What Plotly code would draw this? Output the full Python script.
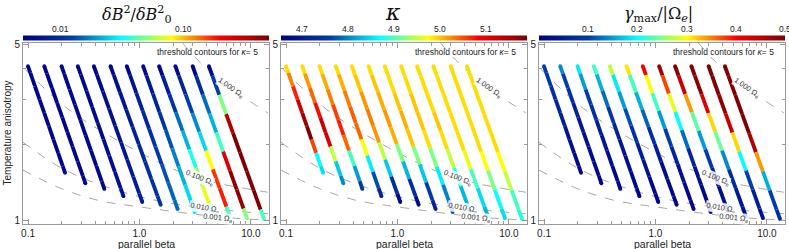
import math
import plotly.graph_objects as go
from plotly.colors import sample_colorscale

# ---------------- data ----------------
# 12 trajectories (same positions in all panels): start / end (parallel beta, anisotropy)
beta_start = [0.10, 0.14, 0.20, 0.28, 0.39, 0.55, 0.77, 1.08, 1.50, 2.10, 3.00, 4.20]
aniso_start = [4.08, 4.08, 4.08, 4.08, 4.08, 4.08, 4.08, 4.08, 4.08, 4.08, 4.08, 4.08]
beta_end = [0.215, 0.327, 0.484, 0.718, 1.06, 1.55, 2.20, 3.13, 4.55, 6.47, 9.2, 13.1]
aniso_end = [1.54, 1.40, 1.33, 1.245, 1.18, 1.15, 1.106, 1.076, 1.056, 1.037, 1.018, 1.009]

# colour values at 9 equally spaced stations along each trajectory (top -> bottom)
dB2 = [
    [0.0055, 0.0055, 0.0055, 0.0055, 0.0055, 0.0055, 0.0055, 0.0055, 0.0055],
    [0.0055, 0.0055, 0.0055, 0.0055, 0.0055, 0.0055, 0.0055, 0.0055, 0.0055],
    [0.0057, 0.0057, 0.0057, 0.0057, 0.0057, 0.0057, 0.0057, 0.0058, 0.0058],
    [0.0057, 0.0057, 0.0057, 0.0060, 0.0060, 0.0063, 0.0063, 0.0066, 0.0066],
    [0.0057, 0.0060, 0.0063, 0.0066, 0.0069, 0.0072, 0.0076, 0.0079, 0.0079],
    [0.0057, 0.0063, 0.0069, 0.0076, 0.0083, 0.0091, 0.0100, 0.0104, 0.0109],
    [0.0057, 0.0066, 0.0079, 0.0091, 0.0104, 0.0120, 0.0138, 0.0151, 0.0158],
    [0.0057, 0.0072, 0.0087, 0.0109, 0.0138, 0.0173, 0.0218, 0.0262, 0.0275],
    [0.0057, 0.0079, 0.0109, 0.0158, 0.0218, 0.0346, 0.0550, 0.0720, 0.0346],
    [0.0057, 0.0087, 0.0126, 0.0182, 0.0262, 0.0790, 0.1660, 0.1800, 0.0400],
    [0.0057, 0.0100, 0.0158, 0.0218, 0.0400, 0.2500, 0.4350, 0.4350, 0.0500],
    [0.0057, 0.0126, 0.0500, 0.3460, 0.5000, 0.5000, 0.5000, 0.5000, 0.0400],
]
kappa = [
    [4.99, 5.03, 5.07, 5.125, 5.165, 5.19, 5.056, 4.87, 4.85],
    [4.99, 5.02, 5.04, 5.08, 5.125, 5.11, 4.95, 4.84, 4.805],
    [4.99, 5.01, 5.03, 5.056, 5.07, 5.04, 4.895, 4.815, 4.76],
    [4.99, 5.01, 5.03, 5.045, 5.04, 4.975, 4.86, 4.77, 4.72],
    [4.99, 5.00, 5.02, 5.03, 5.02, 4.95, 4.84, 4.735, 4.68],
    [4.99, 5.00, 5.01, 5.02, 5.01, 4.92, 4.83, 4.735, 4.68],
    [4.99, 4.99, 5.00, 5.01, 5.00, 4.92, 4.84, 4.76, 4.72],
    [4.99, 4.99, 5.00, 5.00, 4.99, 4.92, 4.86, 4.80, 4.77],
    [4.99, 4.99, 4.99, 5.00, 4.99, 4.95, 4.88, 4.83, 4.805],
    [4.99, 4.99, 4.99, 4.99, 4.99, 4.965, 4.895, 4.85, 4.83],
    [4.99, 4.99, 4.99, 4.99, 4.99, 4.975, 4.92, 4.87, 4.85],
    [4.99, 4.99, 4.99, 4.99, 4.99, 4.975, 4.95, 4.895, 4.88],
]
gamma = [
    [0.100, 0.090, 0.075, 0.060, 0.050, 0.035, 0.025, 0.015, 0.010],
    [0.140, 0.100, 0.080, 0.055, 0.040, 0.030, 0.020, 0.015, 0.010],
    [0.190, 0.150, 0.100, 0.080, 0.055, 0.035, 0.025, 0.015, 0.010],
    [0.225, 0.160, 0.125, 0.090, 0.060, 0.040, 0.025, 0.015, 0.010],
    [0.275, 0.190, 0.150, 0.110, 0.080, 0.050, 0.030, 0.015, 0.010],
    [0.310, 0.225, 0.160, 0.120, 0.080, 0.050, 0.025, 0.015, 0.010],
    [0.400, 0.300, 0.225, 0.150, 0.100, 0.060, 0.030, 0.015, 0.010],
    [0.475, 0.375, 0.290, 0.200, 0.125, 0.060, 0.030, 0.015, 0.010],
    [0.500, 0.440, 0.340, 0.235, 0.150, 0.100, 0.050, 0.025, 0.015],
    [0.500, 0.490, 0.425, 0.315, 0.240, 0.140, 0.070, 0.035, 0.025],
    [0.500, 0.500, 0.490, 0.440, 0.315, 0.200, 0.100, 0.050, 0.030],
    [0.500, 0.500, 0.500, 0.500, 0.460, 0.340, 0.160, 0.100, 0.075],
]

# threshold contours (gamma = level * Omega_e) for kappa = 5
contour_labels = ["1.000", "0.100", "0.010", "0.001"]
contour_beta = [
    [2.44, 3.55, 6.6, 14.2],
    [0.094, 0.224, 0.674, 2.34, 4.37, 14.2],
    [0.090, 0.194, 0.446, 1.26, 3.70, 14.2],
    [0.090, 0.194, 0.419, 0.98, 5.15, 14.2],
]
contour_aniso = [
    [5.04, 4.2, 3.34, 2.66],
    [3.97, 2.78, 2.04, 1.55, 1.42, 1.29],
    [2.04, 1.62, 1.38, 1.21, 1.12, 1.06],
    [1.58, 1.34, 1.20, 1.13, 1.03, 1.00],
]
label_beta = [6.6, 3.48, 3.85, 5.05]
label_aniso = [3.34, 1.47, 1.116, 1.018]
label_angle = [35, 22, 10, 6]

x_tickvals = [0.1, 1.0, 10.0]
x_ticktext = ["0.1", "1.0", "10.0"]
y_tickvals = [1, 5]
y_ticktext = ["1", "5"]

cb_ticks = [[0.01, 0.10], [4.7, 4.8, 4.9, 5.0, 5.1], [0.1, 0.2, 0.3, 0.4, 0.5]]
cb_ticktext = [["0.01", "0.10"], ["4.7", "4.8", "4.9", "5.0", "5.1"], ["0.1", "0.2", "0.3", "0.4", "0.5"]]
cb_range = [[0.005, 0.5], [4.655, 5.19], [0.0, 0.5]]
cb_log = [True, False, False]

titles = ["<i>δB</i><sup>2</sup>/<i>δB</i><sup>2</sup><sub>0</sub>",
          "<i>κ</i>",
          "<i>γ</i><sub>max</sub>/|Ω<sub><i>e</i></sub>|"]
title_font = ["DejaVu Serif, serif", "DejaVu Serif, serif", "DejaVu Serif, serif"]
title_size = [16, 22, 16]
title_xpx = [137, 393, 658]
title_ypx = [14, 12, 14]

# ---------------- layout geometry ----------------
W, H = 789, 249
ML, MR, MT, MB = 23, 4, 43, 25
PW = W - ML - MR
panel_px = [(23, 269), (281, 527), (539, 785)]
domains = [((a - ML) / PW, (b - ML) / PW) for a, b in panel_px]
PH = H - MT - MB

def ypaper(px):
    return (H - MB - px) / PH

def xpaper(px):
    return (px - ML) / PW

JET = "Jet"
fig = go.Figure()
values = [dB2, kappa, gamma]
NS = 9
AX_COL = "#9a9a9a"
TXT = "#222222"
FONT = "Liberation Sans, Arial, sans-serif"
LW = 3.8

def tnorm(p, v):
    lo, hi = cb_range[p]
    if cb_log[p]:
        t = (math.log10(v) - math.log10(lo)) / (math.log10(hi) - math.log10(lo))
    else:
        t = (v - lo) / (hi - lo)
    return min(max(t, 0.0), 1.0)

for p in range(3):
    xa = "x" if p == 0 else f"x{p+1}"
    ya = "y" if p == 0 else f"y{p+1}"
    # contours
    for c in range(4):
        fig.add_trace(go.Scatter(x=contour_beta[c], y=contour_aniso[c], mode="lines",
                                 line=dict(color="#a8a8a8", width=1, dash="dash", shape="spline"),
                                 xaxis=xa, yaxis=ya, showlegend=False, hoverinfo="skip"))
    # trajectories: pieces around each station coloured by that station's value
    allx, ally, allv = [], [], []
    endx, endy, endc = [], [], []
    for k in range(12):
        lb0, lb1 = math.log10(beta_start[k]), math.log10(beta_end[k])
        la0, la1 = math.log10(aniso_start[k]), math.log10(aniso_end[k])
        vals = values[p][k]
        for i in range(NS):
            f0 = max((i - 0.5) / (NS - 1), 0.0)
            fc = i / (NS - 1)
            f1 = min((i + 0.5) / (NS - 1), 1.0)
            xs = [10 ** (lb0 + f * (lb1 - lb0)) for f in (f0, fc, f1)]
            ys = [10 ** (la0 + f * (la1 - la0)) for f in (f0, fc, f1)]
            col = sample_colorscale(JET, [tnorm(p, vals[i])])[0]
            fig.add_trace(go.Scatter(x=xs, y=ys, mode="lines", line=dict(color=col, width=LW),
                                     xaxis=xa, yaxis=ya, showlegend=False, hoverinfo="skip"))
            allx.append(xs[1]); ally.append(ys[1])
            allv.append(math.log10(vals[i]) if cb_log[p] else vals[i])
            if i in (0, NS - 1):
                endx.append(xs[1]); endy.append(ys[1]); endc.append(col)
    # rounded ends of each trajectory
    fig.add_trace(go.Scatter(x=endx, y=endy, mode="markers",
                             marker=dict(color=endc, size=LW, line=dict(width=0)),
                             xaxis=xa, yaxis=ya, showlegend=False, hoverinfo="skip"))
    # invisible marker trace that carries the colour axis (colorbar)
    lo, hi = cb_range[p]
    fig.add_trace(go.Scatter(x=allx, y=ally, mode="markers",
                             marker=dict(color=allv, coloraxis=f"coloraxis{'' if p == 0 else p+1}",
                                         size=2, opacity=0),
                             xaxis=xa, yaxis=ya, showlegend=False, hoverinfo="skip"))

    # axes
    axis_common = dict(showline=True, linecolor=AX_COL, linewidth=1, mirror="ticks",
                       ticks="inside", ticklen=5, tickcolor=AX_COL, showgrid=False, zeroline=False,
                       tickfont=dict(family=FONT, size=10, color=TXT))
    fig.layout[("xaxis" if p == 0 else f"xaxis{p+1}")] = dict(
        type="log", domain=list(domains[p]), anchor=ya, range=[-1.045, 1.162],
        tickvals=x_tickvals, ticktext=x_ticktext,
        minor=dict(tickvals=[0.2, 0.3, 0.4, 0.5, 0.6, 0.7, 0.8, 0.9, 2, 3, 4, 5, 6, 7, 8, 9],
                   ticks="inside", ticklen=3, tickcolor=AX_COL),
        **axis_common)
    fig.layout[("yaxis" if p == 0 else f"yaxis{p+1}")] = dict(
        type="log", domain=[0, 1], anchor=xa, range=[math.log10(0.965), 0.703],
        tickvals=y_tickvals, ticktext=y_ticktext,
        minor=dict(tickvals=[2, 3, 4], ticks="inside", ticklen=3, tickcolor=AX_COL),
        **axis_common)

    # colour axis with horizontal bar above the panel
    clo, chi = (math.log10(lo), math.log10(hi)) if cb_log[p] else (lo, hi)
    fig.layout[f"coloraxis{'' if p == 0 else p+1}"] = dict(
        colorscale=JET, cmin=clo, cmax=chi,
        colorbar=dict(orientation="h", x=domains[p][0], xanchor="left", xref="paper",
                      y=ypaper(38), yanchor="middle", len=246, lenmode="pixels",
                      thickness=5, thicknessmode="pixels", xpad=0, ypad=0,
                      outlinewidth=0, showticklabels=False, ticks=""))
    # colorbar tick labels (above the bar)
    for tv, tt in zip(cb_ticks[p], cb_ticktext[p]):
        xp = domains[p][0] + tnorm(p, tv) * (domains[p][1] - domains[p][0])
        fig.add_annotation(x=xp, y=ypaper(29), xref="paper", yref="paper", text=tt,
                           showarrow=False, font=dict(family=FONT, size=8.5, color=TXT),
                           xanchor="center", yanchor="middle")
    # big title
    fig.add_annotation(x=xpaper(title_xpx[p]), y=ypaper(title_ypx[p]), xref="paper", yref="paper",
                       text=titles[p], showarrow=False,
                       font=dict(family=title_font[p], size=title_size[p], color="#111"),
                       xanchor="center", yanchor="middle")
    # contour labels
    for c in range(4):
        fig.add_annotation(x=math.log10(label_beta[c]), y=math.log10(label_aniso[c]), xref=xa, yref=ya,
                           text=f"{contour_labels[c]} Ω<sub>e</sub>", showarrow=False,
                           textangle=label_angle[c], bgcolor="rgba(255,255,255,0.85)", borderpad=0,
                           font=dict(family=FONT, size=7.5, color="#333"))
    # legend-like note
    fig.add_annotation(x=0.965, y=ypaper(52), xref=f"{xa} domain", yref="paper",
                       text="threshold contours for <i>κ</i>= 5", showarrow=False,
                       xanchor="right", yanchor="middle", font=dict(family=FONT, size=8.5, color=TXT))
    # x title
    fig.add_annotation(x=0.5, y=ypaper(244), xref=f"{xa} domain", yref="paper", text="parallel beta",
                       showarrow=False, xanchor="center", yanchor="middle",
                       font=dict(family=FONT, size=10.5, color=TXT))

fig.add_annotation(x=xpaper(7), y=0.5, xref="paper", yref="paper", text="Temperature anisotropy",
                   showarrow=False, textangle=-90, xanchor="center", yanchor="middle",
                   font=dict(family=FONT, size=10, color=TXT))

fig.update_layout(width=W, height=H, margin=dict(l=ML, r=MR, t=MT, b=MB, autoexpand=False),
                  paper_bgcolor="white", plot_bgcolor="white", showlegend=False)

# the page's default body margin would shift the figure; remove it
fig.write_html("out.html", config={"displayModeBar": False},
               post_script="document.body.style.margin='0px';")
